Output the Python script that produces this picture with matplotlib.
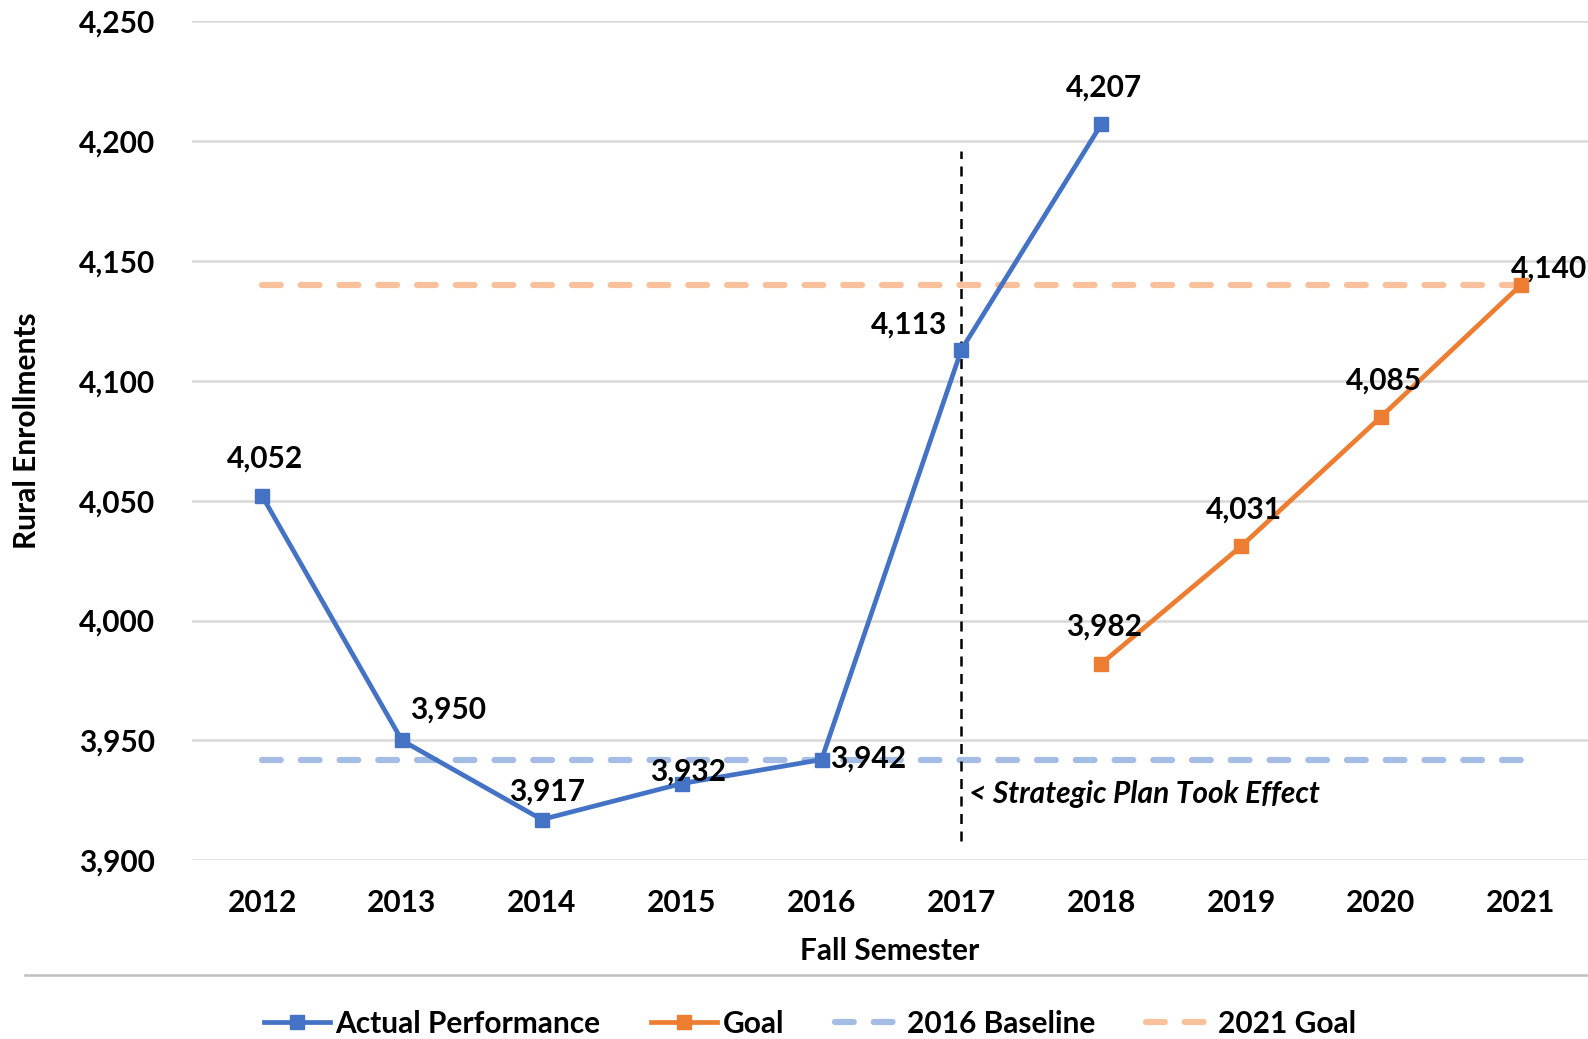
import matplotlib
matplotlib.use("Agg")
import matplotlib.pyplot as plt
from matplotlib.lines import Line2D

plt.rcParams["font.family"] = ["Lato", "DejaVu Sans"]
plt.rcParams["font.weight"] = "bold"

# data
years = ["2012", "2013", "2014", "2015", "2016", "2017", "2018", "2019", "2020", "2021"]
actual = [4052, 3950, 3917, 3932, 3942, 4113, 4207]
goal_years = ["2018", "2019", "2020", "2021"]
goal = [3982, 4031, 4085, 4140]
baseline_2016 = 3942
goal_2021 = 4140
plan_year = "2017"

BLUE = "#4472C4"
ORANGE = "#ED7D31"
LBLUE = "#A5BDE5"
LORANGE = "#F8C19B"
GRID = "#D9D9D9"
FS = 21.5

fig = plt.figure(figsize=(15.88, 10.39), dpi=100)
ax = fig.add_axes([0.121, 0.172, 0.879, 0.8075])

x_all = list(range(len(years)))
xa = x_all[:len(actual)]
xg = [years.index(y) for y in goal_years]

ax.plot([x_all[0], x_all[-1]], [baseline_2016] * 2, color=LBLUE, lw=4.5,
        ls=(0, (3, 3.2)), dash_capstyle="round", zorder=2)
ax.plot([x_all[0], x_all[-1]], [goal_2021] * 2, color=LORANGE, lw=4.5,
        ls=(0, (3, 3.2)), dash_capstyle="round", zorder=2)

ax.plot(xa, actual, color=BLUE, lw=3.4, marker="s", ms=10, zorder=4)
ax.plot(xg, goal, color=ORANGE, lw=3.4, marker="s", ms=10, zorder=4)

# vertical marker for when the plan started
px = years.index(plan_year)
ax.plot([px, px], [3908, 4196], color="black", lw=1.8, ls=(0, (4, 3)), zorder=3)
ax.text(px + 0.055, 3927.5, "< Strategic Plan Took Effect", fontsize=FS,
        style="italic", fontweight="bold", va="center", ha="left")

# data labels (pixel offsets)
act_off = [(3, 37), (46, 31), (5, 28), (6, 12), (47, 1), (-52, 25), (3, 37)]
goal_off = [(3, 37), (3, 37), (3, 36), (28, 16)]
for xi, v, off in zip(xa, actual, act_off):
    ax.annotate(f"{v:,}", (xi, v), xytext=off, textcoords="offset pixels",
                ha="center", va="center", fontsize=FS, fontweight="bold", zorder=5)
for xi, v, off in zip(xg, goal, goal_off):
    ax.annotate(f"{v:,}", (xi, v), xytext=off, textcoords="offset pixels",
                ha="center", va="center", fontsize=FS, fontweight="bold", zorder=5)

ax.set_xlim(-0.5, 9.48)
ax.set_ylim(3900, 4250)
ax.set_yticks(range(3900, 4251, 50))
ax.set_yticklabels([f"{v:,}" for v in range(3900, 4251, 50)])
ax.set_xticks(x_all)
ax.set_xticklabels(years)
ax.tick_params(axis="both", length=0, labelsize=FS)
ax.tick_params(axis="y", pad=27)
ax.tick_params(axis="x", pad=21)
ax.grid(axis="y", color=GRID, lw=1.8)
ax.set_axisbelow(True)
for s in ax.spines.values():
    s.set_visible(False)

ax.set_xlabel("Fall Semester", fontsize=FS, fontweight="bold", labelpad=14)
fig.text(0.017, 0.585, "Rural Enrollments", rotation=90, fontsize=FS,
         fontweight="bold", ha="center", va="center")

# separator above legend
fig.add_artist(Line2D([0.016, 1.0], [0.0615, 0.0615], color="#BFBFBF", lw=1.8))

handles = [
    Line2D([], [], color=BLUE, lw=3.4, marker="s", ms=10),
    Line2D([], [], color=ORANGE, lw=3.4, marker="s", ms=10),
    Line2D([], [], color=LBLUE, lw=4.5, ls=(0, (3, 3.2)), dash_capstyle="round"),
    Line2D([], [], color=LORANGE, lw=4.5, ls=(0, (3, 3.2)), dash_capstyle="round"),
]
labels = ["Actual Performance", "Goal", "2016 Baseline", "2021 Goal"]
fig.legend(handles, labels, loc="center", bbox_to_anchor=(0.51, 0.0145), ncol=4,
           frameon=False, fontsize=FS, handlelength=2.2, handletextpad=0.2,
           columnspacing=1.7, borderpad=0.2)

fig.savefig("out.png", dpi=100)
